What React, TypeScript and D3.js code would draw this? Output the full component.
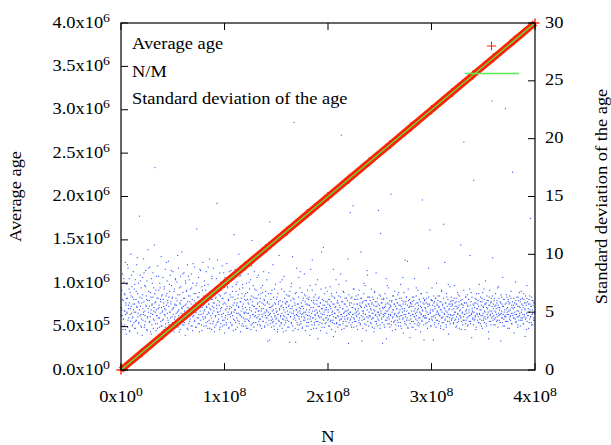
import React from "react";
import * as d3 from "d3";

// ---------- data ----------
const xTickValues = [0, 1e8, 2e8, 3e8, 4e8];
const xTickMantissa = ["0", "1", "2", "3", "4"];
const xTickExponent = ["0", "8", "8", "8", "8"];

const yTickValues = [0, 5e5, 1e6, 1.5e6, 2e6, 2.5e6, 3e6, 3.5e6, 4e6];
const yTickMantissa = ["0.0", "5.0", "1.0", "1.5", "2.0", "2.5", "3.0", "3.5", "4.0"];
const yTickExponent = ["0", "5", "6", "6", "6", "6", "6", "6", "6"];

const y2TickValues = [0, 5, 10, 15, 20, 25, 30];

// Average age (red +) sampled along N
const avgN = [0, 2e7, 4e7, 6e7, 8e7, 1e8, 1.2e8, 1.4e8, 1.6e8, 1.8e8, 2e8, 2.2e8, 2.4e8, 2.6e8, 2.8e8, 3e8, 3.2e8, 3.4e8, 3.6e8, 3.8e8, 4e8];
const avgAge = [0, 2e5, 4e5, 6e5, 8e5, 1e6, 1.2e6, 1.4e6, 1.6e6, 1.8e6, 2e6, 2.2e6, 2.4e6, 2.6e6, 2.8e6, 3e6, 3.2e6, 3.4e6, 3.6e6, 3.8e6, 4e6];

// N/M (green line)
const nmN = [0, 4e8];
const nmValue = [0, 4e6];

// Standard deviation of the age (x10), run A: samples evenly spread over N = 0 .. 4e8
const stdDevX10A = [
  54,40,69,47,83,35,60,44,76,51,39,65,93,48,56,31,74,50,62,37,88,53,45,79,58,34,67,42,100,55,49,72,38,63,46,85,52,41,70,57,
  36,78,50,61,43,91,54,32,66,49,75,40,58,133,47,82,55,38,71,44,62,30,80,53,48,96,59,37,73,51,42,86,56,64,35,77,45,60,104,50,
  68,41,55,89,46,33,63,52,79,39,57,48,84,36,71,54,43,66,175,50,59,34,81,47,62,40,90,53,45,69,56,37,75,49,61,42,98,54,38,65,
  51,80,44,58,35,72,53,47,87,40,64,56,31,77,49,60,43,94,55,39,68,50,82,45,59,36,73,52,63,41,85,48,54,33,70,57,46,79,38,62,
  56,43,76,50,65,37,88,52,44,71,58,35,81,49,60,42,102,53,39,67,55,47,84,41,62,50,30,75,57,45,69,36,91,54,48,64,40,78,51,59,
  44,70,53,38,83,49,61,34,75,56,47,66,42,89,52,58,37,73,50,122,45,63,55,40,80,48,67,33,60,51,86,43,57,39,72,54,46,93,49,64,
  38,77,52,59,45,69,41,85,54,48,63,36,74,50,57,43,96,53,40,68,47,61,35,81,55,49,66,42,88,51,58,37,71,46,62,39,79,53,144,50,
  60,42,73,48,56,35,84,51,64,40,69,54,46,90,38,62,49,75,43,58,32,80,52,47,67,39,92,55,44,71,50,61,36,77,53,48,65,41,86,49,
  54,39,72,47,63,34,79,50,58,43,87,52,41,68,56,45,76,37,62,49,55,100,42,70,48,59,33,82,51,46,66,40,74,53,57,38,89,49,61,44,
  50,66,38,75,52,44,61,36,83,49,57,42,70,54,47,78,35,64,51,112,40,59,48,73,55,37,85,46,62,50,41,69,53,45,80,39,58,51,65,42,
  48,55,39,62,44,71,51,36,58,46,67,42,53,85,49,60,38,56,47,64,41,52,78,45,59,25,50,66,43,57,48,128,40,54,61,46,37,69,51,44,
  56,42,63,49,35,58,47,74,53,40,61,45,51,33,66,48,57,43,99,52,38,60,46,55,41,70,49,36,59,44,54,47,81,39,62,50,43,57,34,65,
  45,59,51,37,64,48,42,56,24,68,53,46,60,40,75,49,55,38,62,44,51,214,47,58,36,66,43,52,48,88,41,57,50,35,63,46,54,39,71,49,
  53,40,58,46,67,37,55,49,62,43,50,83,45,59,34,64,48,52,41,57,69,44,38,61,50,47,56,30,73,46,54,42,60,39,95,51,45,58,36,63,
  41,57,48,65,44,52,36,60,49,78,42,55,47,39,63,51,45,58,34,70,46,53,40,61,48,56,106,43,50,37,66,52,45,59,41,54,32,68,47,57,
  50,44,61,38,56,47,72,42,53,59,35,64,48,51,43,87,46,57,40,62,49,33,55,45,67,41,52,60,37,58,46,74,50,43,54,39,63,48,203,44,
  59,46,53,40,68,49,36,57,44,62,51,42,77,47,55,38,60,45,52,23,65,48,56,43,136,50,39,58,46,63,41,54,48,70,37,57,44,61,49,52,
  42,64,50,46,57,35,61,48,53,41,69,45,58,39,55,102,47,62,43,51,36,59,49,66,44,54,40,73,48,56,34,60,46,52,82,42,57,38,63,50,
  55,47,60,41,52,70,44,58,37,63,49,45,56,33,67,51,42,59,48,84,40,55,46,62,38,57,50,43,65,47,53,36,118,49,58,44,61,41,54,48,
  46,61,39,54,49,66,43,57,51,27,62,45,58,40,71,48,53,44,60,37,56,47,152,42,59,50,34,64,46,52,41,57,48,68,43,55,39,61,47,53,
  58,43,65,49,38,56,46,62,52,41,74,47,55,36,60,50,44,57,32,67,48,53,42,95,46,59,39,63,51,45,56,37,70,49,54,43,61,40,58,47,
  44,57,51,37,63,48,55,42,60,46,79,40,53,49,35,64,47,58,43,52,69,41,56,38,61,50,45,59,33,66,48,54,42,147,51,46,62,39,57,45,
  61,47,53,40,58,45,67,50,36,55,48,63,42,57,44,121,49,52,38,60,46,71,43,56,51,26,64,47,59,41,53,45,62,37,75,50,56,43,60,48,
  49,55,42,64,47,52,38,59,45,68,50,41,57,46,62,35,54,48,93,43,58,51,39,66,46,55,42,61,48,31,57,53,45,72,40,59,47,63,44,52,
  56,45,60,40,53,48,73,43,58,50,37,62,46,55,41,67,49,54,44,59,36,64,47,52,108,45,57,42,61,50,39,56,46,69,43,58,48,35,63,51,
  43,58,49,65,38,55,46,61,52,42,70,47,56,40,59,48,28,63,51,45,57,39,164,50,54,44,62,47,58,37,66,49,53,43,60,46,55,41,74,48,
  52,40,63,47,56,43,59,36,67,49,54,45,61,41,57,50,77,44,58,38,64,48,53,46,60,33,56,42,69,51,47,58,39,62,45,55,49,97,43,57,
  47,60,44,55,39,66,50,53,42,58,46,71,37,56,49,62,43,54,48,59,25,65,51,45,57,41,80,48,55,44,61,38,52,47,226,46,58,42,63,50,
  54,42,61,48,57,36,64,46,52,43,68,49,56,40,59,47,53,45,62,32,58,50,44,76,41,57,48,63,46,55,39,60,51,43,67,47,54,38,61,45,
  50,57,43,62,48,54,40,66,46,58,52,29,64,45,56,49,73,42,59,47,53,36,61,50,44,57,131,46,55,41,63,48,52,39,60,45,58,43,54,49,
];

// Standard deviation of the age (x10), run B: a second, offset set of samples over N = 0 .. 4e8
const stdDevX10B = [
  47,52,61,38,44,79,66,51,35,58,62,49,91,43,56,70,33,48,53,64,82,45,39,57,61,50,74,36,42,68,55,97,46,59,41,52,63,77,48,37,
  58,65,43,50,84,39,47,72,55,61,34,46,53,88,60,42,67,49,31,56,75,63,44,51,108,58,40,69,52,47,36,62,81,54,45,71,59,38,64,50,
  43,61,55,70,48,37,52,93,66,45,58,41,63,74,50,35,57,86,46,62,53,39,68,44,56,78,49,42,60,99,51,47,33,65,57,72,41,54,48,83,
  62,39,51,56,77,44,68,47,59,35,81,53,42,64,49,57,71,38,46,92,55,60,43,50,66,37,75,52,58,45,63,40,87,54,48,61,34,69,56,44,
  51,73,46,60,38,55,64,42,89,57,49,36,67,52,45,79,61,40,58,54,33,70,47,63,56,41,95,50,44,65,59,37,53,76,48,62,43,57,84,39,
  66,45,57,41,53,72,48,60,37,85,55,46,63,50,39,68,56,44,117,52,61,35,74,49,58,43,65,54,40,81,47,59,62,38,55,71,45,50,64,42,
  54,60,36,49,67,58,43,76,52,45,61,39,90,56,48,63,41,55,70,47,53,34,62,57,46,82,51,44,59,38,66,53,48,73,42,57,61,37,50,68,
  45,51,58,39,47,84,54,26,49,66,43,55,41,91,52,38,70,46,57,44,50,63,35,48,59,42,53,76,47,40,56,78,44,33,52,68,46,58,41,54,
  59,43,48,55,37,64,50,46,72,41,53,98,34,49,61,45,56,24,67,52,47,39,57,80,44,51,85,42,55,48,36,60,53,46,65,43,50,57,38,62,
  47,56,41,63,52,44,87,35,49,69,45,54,60,39,51,47,74,42,57,50,27,62,46,55,41,58,49,102,37,53,44,60,48,56,40,71,52,45,59,43,
  52,38,61,47,55,43,66,50,41,57,29,63,49,54,45,78,40,58,47,52,64,39,56,44,83,48,35,59,53,42,67,50,46,57,38,62,51,44,96,49,
  41,58,50,44,62,37,54,48,142,45,70,42,53,61,47,38,57,51,65,43,49,56,40,62,54,25,58,46,51,75,44,60,48,39,55,86,63,45,57,47,
  63,46,53,40,57,49,45,61,52,36,68,47,55,42,59,50,44,138,48,56,39,64,51,45,58,23,53,62,47,37,55,49,79,43,73,51,46,57,40,54,
  48,55,39,60,45,52,64,42,57,49,35,61,53,46,58,41,67,50,44,56,38,62,47,53,80,45,59,51,40,57,48,63,43,94,36,60,49,55,28,58,
  55,42,59,48,37,63,51,46,57,44,71,50,39,58,53,45,61,40,55,49,66,43,52,58,47,26,60,54,45,51,62,41,57,48,88,44,56,50,38,61,
  44,60,52,46,58,39,55,62,48,43,57,51,64,40,54,47,59,36,52,69,45,56,41,126,49,53,44,58,37,63,50,46,74,52,42,57,48,55,43,60,
  57,47,41,62,50,55,44,59,38,53,48,65,42,56,51,46,60,35,57,49,54,43,197,48,58,40,63,52,45,56,39,61,50,47,99,42,67,49,53,44,
  50,56,43,58,46,35,61,53,48,57,41,66,49,44,59,52,38,62,47,55,43,70,51,46,57,40,54,60,45,50,27,63,56,48,42,59,51,64,46,53,
  39,62,51,45,56,48,60,43,54,72,47,52,41,58,49,63,45,55,38,61,50,46,57,42,65,53,48,36,59,51,44,58,47,62,40,54,171,49,56,45,
  54,48,60,42,57,51,37,63,46,55,49,59,43,68,52,45,56,40,61,48,53,44,58,35,62,50,47,57,41,64,52,46,55,39,60,49,56,43,58,51,
];

const legendLabels = ["Average age", "N/M", "Standard deviation of the age"];

// ---------- layout ----------
const W = 611;
const H = 445;
const L = 121;
const R = 535;
const T = 23;
const B = 370;
const FONT = "Liberation Serif";
const FS = 16;
const SX = 1.15;
const TICK = 7;

const RED = "#ff2200";
const GREEN = "#55ee55";
const BLUE = "#2d52ff";

function Label(props: {
  x: number; y: number; anchor: string; main: string; sup?: string; rotate?: number;
}) {
  const { x, y, anchor, main, sup, rotate = 0 } = props;
  return (
    <g transform={`translate(${x},${y}) rotate(${rotate}) scale(${SX},1)`}>
      <text textAnchor={anchor} style={{ fontFamily: FONT, fontSize: FS }} fill="#000">
        <tspan>{main}</tspan>
        {sup !== undefined && (
          <tspan dy={-6} style={{ fontSize: 12 }}>{sup}</tspan>
        )}
      </text>
    </g>
  );
}

export default function App() {
  const x = d3.scaleLinear().domain([0, 4e8]).range([L, R]);
  const y = d3.scaleLinear().domain([0, 4e6]).range([B, T]);
  const y2 = d3.scaleLinear().domain([0, 30]).range([B, T]);

  const stepA = 4e8 / stdDevX10A.length;
  const stepB = 4e8 / stdDevX10B.length;

  const avgLine = d3
    .line<number>()
    .x((_, i) => x(avgN[i]))
    .y((d) => y(d))(avgAge) as string;
  const nmLine = d3
    .line<number>()
    .x((_, i) => x(nmN[i]))
    .y((d) => y(d))(nmValue) as string;

  const plus = (cx: number, cy: number, s: number) =>
    `M${cx - s},${cy}H${cx + s}M${cx},${cy - s}V${cy + s}`;

  const dot = (n: number, v: number, key: string) => (
    <rect key={key} x={x(n) - 0.55} y={y2(v / 10) - 0.55} width={1.1} height={1.1} />
  );

  return (
    <svg
      width={W}
      height={H}
      style={{ position: "absolute", left: 0, top: 0, background: "#fff" }}
    >
      <rect x={0} y={0} width={W} height={H} fill="#fff" />

      {/* std dev dots */}
      <g fill={BLUE}>
        {stdDevX10A.map((v, i) => dot((i + 0.5) * stepA, v, "a" + i))}
        {stdDevX10B.map((v, i) => dot((i + 0.5) * stepB, v, "b" + i))}
      </g>

      {/* average age */}
      <path d={avgLine} fill="none" stroke={RED} strokeWidth={6.6} strokeLinejoin="round" />
      <g stroke={RED} strokeWidth={1.4} fill="none">
        {avgAge.map((v, i) => (
          <path key={i} d={plus(x(avgN[i]), y(v), 4.5)} />
        ))}
      </g>

      {/* N/M */}
      <path d={nmLine} fill="none" stroke={GREEN} strokeWidth={1.2} />

      {/* frame */}
      <rect x={L} y={T} width={R - L} height={B - T} fill="none" stroke="#000" strokeWidth={1.2} />

      {/* ticks */}
      <g stroke="#000" strokeWidth={1}>
        {yTickValues.map((v, i) => (
          <line key={"yl" + i} x1={L} x2={L + TICK} y1={y(v)} y2={y(v)} />
        ))}
        {y2TickValues.map((v, i) => (
          <line key={"yr" + i} x1={R} x2={R - TICK} y1={y2(v)} y2={y2(v)} />
        ))}
        {xTickValues.map((v, i) => (
          <g key={"xt" + i}>
            <line x1={x(v)} x2={x(v)} y1={B} y2={B - TICK} />
            <line x1={x(v)} x2={x(v)} y1={T} y2={T + TICK} />
          </g>
        ))}
      </g>

      {/* tick labels */}
      {yTickValues.map((v, i) => (
        <Label
          key={"yl" + i}
          x={110}
          y={y(v) + 4.5}
          anchor="end"
          main={yTickMantissa[i] + "x10"}
          sup={yTickExponent[i]}
        />
      ))}
      {y2TickValues.map((v, i) => (
        <Label key={"yr" + i} x={545} y={y2(v) + 4.5} anchor="start" main={String(v)} />
      ))}
      {xTickValues.map((v, i) => (
        <Label
          key={"xl" + i}
          x={x(v)}
          y={402}
          anchor="middle"
          main={xTickMantissa[i] + "x10"}
          sup={xTickExponent[i]}
        />
      ))}

      {/* axis titles */}
      <Label x={(L + R) / 2} y={442} anchor="middle" main="N" />
      <Label x={21} y={(T + B) / 2} anchor="middle" main="Average age" rotate={-90} />
      <Label x={607} y={(T + B) / 2} anchor="middle" main="Standard deviation of the age" rotate={-90} />

      {/* legend */}
      {legendLabels.map((t, i) => (
        <Label key={"lg" + i} x={132} y={49 + i * 27.5} anchor="start" main={t} />
      ))}
      <path d={plus(491.5, 46, 4.5)} stroke={RED} strokeWidth={1} fill="none" />
      <line x1={465} x2={519} y1={73.5} y2={73.5} stroke={GREEN} strokeWidth={1.5} />
      <rect x={491.5} y={100.5} width={1} height={1} fill={BLUE} />
    </svg>
  );
}
